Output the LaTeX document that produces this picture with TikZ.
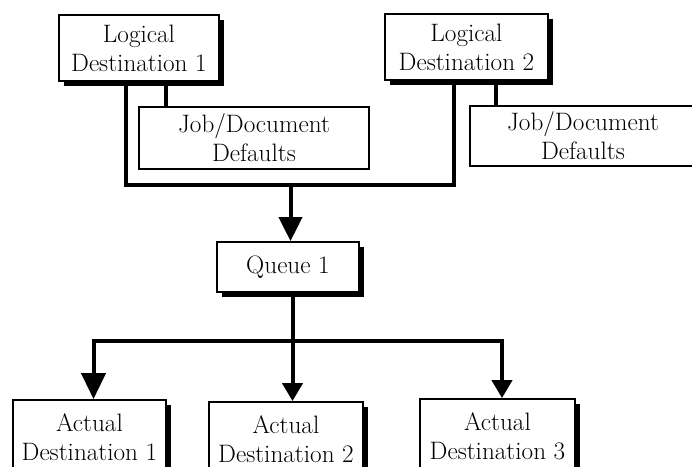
\documentclass[tikz,border=0pt]{standalone}
\usetikzlibrary{shadows,arrows.meta}
\begin{document}
\begin{tikzpicture}[x=1pt,y=-1pt,
  boxbase/.style={draw, line width=1.8pt, fill=white, align=center, inner sep=0pt,
    font=\fontsize{25.2}{29}\selectfont},
  sbox/.style={boxbase, drop shadow={shadow xshift=4.5pt, shadow yshift=-4.5pt, fill=black, opacity=1}},
  pbox/.style={boxbase},
  conn/.style={line width=4pt, line join=miter},
  arrA/.style={conn, -{Triangle[width=23pt,length=24pt]}},
  arrB/.style={conn, -{Triangle[width=24pt,length=26pt]}},
  arrC/.style={conn, -{Triangle[width=20pt,length=18pt]}}]
\clip (0,0) rectangle (692,466);
\fill[white] (0,0) rectangle (692,466);
% nodes
\node[pbox, minimum width=230pt, minimum height=62pt] (jd1) at (254,138) {Job/Document\\Defaults};
\node[pbox, minimum width=226pt, minimum height=60pt] (jd2) at (583,136) {Job/Document\\Defaults};
\node[sbox, minimum width=160pt, minimum height=66pt] (ld1) at (139,48) {Logical\\Destination 1};
\node[sbox, minimum width=163pt, minimum height=66pt] (ld2) at (466.5,47) {Logical\\Destination 2};
\node[sbox, minimum width=142pt, minimum height=50pt] (queue) at (288,267) {Queue 1};
\node[sbox, minimum width=153pt, minimum height=74pt] (ad1) at (89.5,437) {Actual\\Destination 1};
\node[sbox, minimum width=154pt, minimum height=74pt] (ad2) at (286,439) {Actual\\Destination 2};
\node[sbox, minimum width=155pt, minimum height=74pt] (ad3) at (497.5,436) {Actual\\Destination 3};
% coordinates
\coordinate (xl1) at (125.5,185);
\coordinate (xr1) at (454,185);
\coordinate (j) at (290.5,185);
\coordinate (s1) at (165.5,0);
\coordinate (s2) at (496,0);
\coordinate (q) at (292.5,341);
\coordinate (bl) at (93.5,341);
\coordinate (br) at (502,341);
% connectors
\draw[conn] (ld1.south -| xl1) -- (xl1) -- (xr1) -- (ld2.south -| xr1);
\draw[conn] (ld1.south -| s1) -- (jd1.north -| s1);
\draw[conn] (ld2.south -| s2) -- (jd2.north -| s2);
\draw[arrA] (j) -- (j |- queue.north);
\draw[conn] (queue.south -| q) -- (q);
\draw[arrB] (q) -| (bl |- ad1.north);
\draw[arrC] (q) -| (br |- ad3.north);
\draw[arrC] (q) -- (q |- ad2.north);
\end{tikzpicture}
\end{document}
